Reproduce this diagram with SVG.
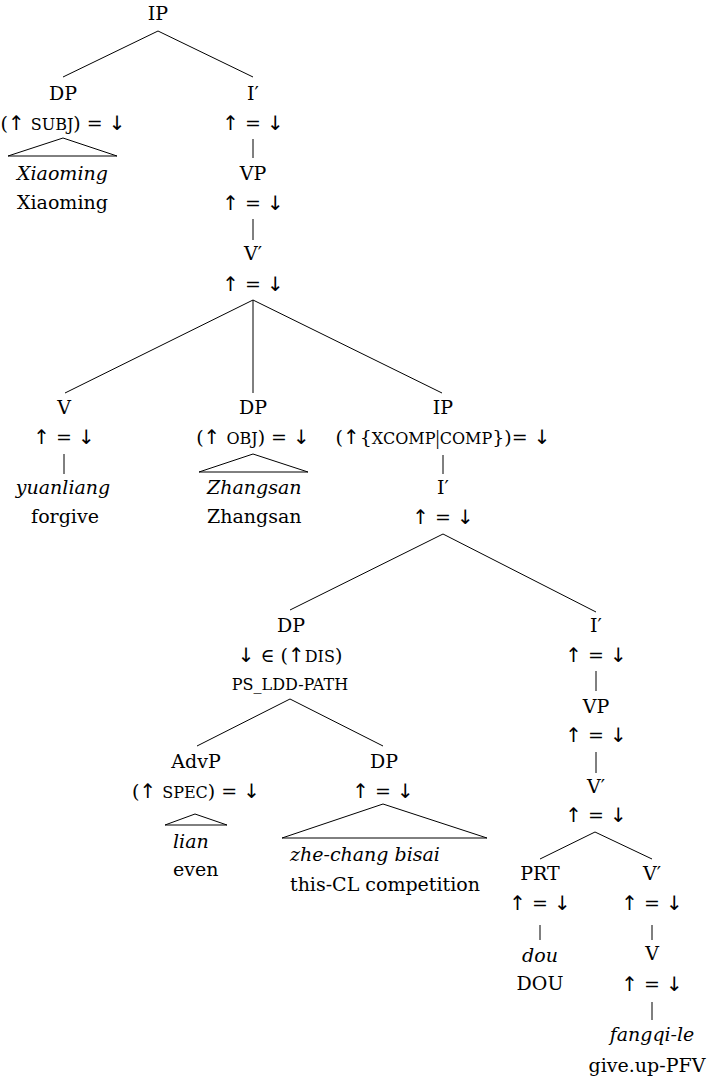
<svg xmlns="http://www.w3.org/2000/svg" width="710" height="1077" viewBox="0 0 710 1077">
  <style>
    text { font-family: "DejaVu Serif", serif; font-size: 19px; fill: #000; text-anchor: middle; }
    text.st { text-anchor: start; }
    .it { font-style: italic; }
    .sc { font-size: 16px; }
    .ar { font-family: "DejaVu Sans", sans-serif; font-size: 20px; }
    .bar { font-family: "Liberation Serif", serif; font-size: 21px; }
    .ln { stroke: #000; stroke-width: 1; fill: none; }
  </style>
  <rect width="710" height="1077" fill="#fff"/>

  <!-- branches and unary lines -->
  <g id="connectors" class="ln">
    <path d="M158 31 L63 77 M158 31 L253 77"/>
    <path d="M253 139 V158 M253 219 V240"/>
    <path d="M253 300 L65 393 M253 300 V393 M253 300 L442 393"/>
    <path d="M64 454 V474"/>
    <path d="M443 455 V474"/>
    <path d="M443 534 L290 610 M443 534 L596 612"/>
    <path d="M290 699 L197 746 M290 699 L383 746"/>
    <path d="M596 671 V691 M596 752 V773"/>
    <path d="M595 832 L540 859 M595 832 L652 859"/>
    <path d="M540 925 V940 M652 925 V940 M652 1002 V1020"/>
  </g>

  <g id="ip-root">
    <text x="158" y="20">IP</text>
  </g>

  <g id="dp-subj">
    <text x="63" y="100">DP</text>
    <text x="63" y="130">(<tspan class="ar">↑</tspan> <tspan class="sc">SUBJ</tspan>) = <tspan class="ar">↓</tspan></text>
    <path class="ln" d="M8 156 L63 138 L117 156 Z"/>
    <text class="st it" x="17" y="180">Xiaoming</text>
    <text class="st" x="17" y="209">Xiaoming</text>
  </g>

  <g id="ibar-1">
    <text x="253" y="100">I′</text>
    <text x="253" y="130"><tspan class="ar">↑</tspan> = <tspan class="ar">↓</tspan></text>
  </g>

  <g id="vp-1">
    <text x="253" y="180">VP</text>
    <text x="253" y="210"><tspan class="ar">↑</tspan> = <tspan class="ar">↓</tspan></text>
  </g>

  <g id="vbar-1">
    <text x="253" y="260">V′</text>
    <text x="253" y="291"><tspan class="ar">↑</tspan> = <tspan class="ar">↓</tspan></text>
  </g>

  <g id="v-yuanliang">
    <text x="64" y="414">V</text>
    <text x="64" y="444"><tspan class="ar">↑</tspan> = <tspan class="ar">↓</tspan></text>
    <text class="it" x="63" y="494">yuanliang</text>
    <text x="65" y="523">forgive</text>
  </g>

  <g id="dp-obj">
    <text x="253" y="414">DP</text>
    <text x="253" y="444">(<tspan class="ar">↑</tspan> <tspan class="sc">OBJ</tspan>) = <tspan class="ar">↓</tspan></text>
    <path class="ln" d="M199 472 L253 454 L308 472 Z"/>
    <text class="st it" x="207" y="494">Zhangsan</text>
    <text class="st" x="207" y="523">Zhangsan</text>
  </g>

  <g id="ip-comp">
    <text x="443" y="414">IP</text>
    <text x="443" y="444">(<tspan class="ar">↑</tspan>{<tspan class="sc">XCOMP</tspan><tspan class="bar">|</tspan><tspan class="sc">COMP</tspan>})= <tspan class="ar">↓</tspan></text>
  </g>

  <g id="ibar-2">
    <text x="443" y="494">I′</text>
    <text x="443" y="524"><tspan class="ar">↑</tspan> = <tspan class="ar">↓</tspan></text>
  </g>

  <g id="dp-dis">
    <text x="291" y="632">DP</text>
    <text x="290" y="662"><tspan class="ar">↓</tspan> ∈ (<tspan class="ar">↑</tspan><tspan class="sc">DIS</tspan>)</text>
    <text class="sc" x="290" y="690">PS_LDD-PATH</text>
  </g>

  <g id="advp-lian">
    <text x="196" y="768">AdvP</text>
    <text x="196" y="798">(<tspan class="ar">↑</tspan> <tspan class="sc">SPEC</tspan>) = <tspan class="ar">↓</tspan></text>
    <path class="ln" d="M165 825 L195 814 L227 825 Z"/>
    <text class="st it" x="173" y="848">lian</text>
    <text class="st" x="173" y="876">even</text>
  </g>

  <g id="dp-bisai">
    <text x="384" y="768">DP</text>
    <text x="383" y="798"><tspan class="ar">↑</tspan> = <tspan class="ar">↓</tspan></text>
    <path class="ln" d="M282 838 L383 804 L487 838 Z"/>
    <text class="st it" x="290" y="861">zhe-chang bisai</text>
    <text class="st" x="290" y="891">this-CL competition</text>
  </g>

  <g id="ibar-3">
    <text x="596" y="632">I′</text>
    <text x="596" y="662"><tspan class="ar">↑</tspan> = <tspan class="ar">↓</tspan></text>
  </g>

  <g id="vp-2">
    <text x="596" y="713">VP</text>
    <text x="596" y="742"><tspan class="ar">↑</tspan> = <tspan class="ar">↓</tspan></text>
  </g>

  <g id="vbar-2">
    <text x="596" y="793">V′</text>
    <text x="596" y="822"><tspan class="ar">↑</tspan> = <tspan class="ar">↓</tspan></text>
  </g>

  <g id="prt-dou">
    <text x="540" y="880">PRT</text>
    <text x="540" y="910"><tspan class="ar">↑</tspan> = <tspan class="ar">↓</tspan></text>
    <text class="it" x="540" y="962">dou</text>
    <text x="540" y="990">DOU</text>
  </g>

  <g id="vbar-3">
    <text x="652" y="880">V′</text>
    <text x="652" y="910"><tspan class="ar">↑</tspan> = <tspan class="ar">↓</tspan></text>
  </g>

  <g id="v-fangqi">
    <text x="652" y="960">V</text>
    <text x="652" y="991"><tspan class="ar">↑</tspan> = <tspan class="ar">↓</tspan></text>
    <text class="it" x="652" y="1041">fangqi-le</text>
    <text x="647" y="1072">give.up-PFV</text>
  </g>
</svg>
